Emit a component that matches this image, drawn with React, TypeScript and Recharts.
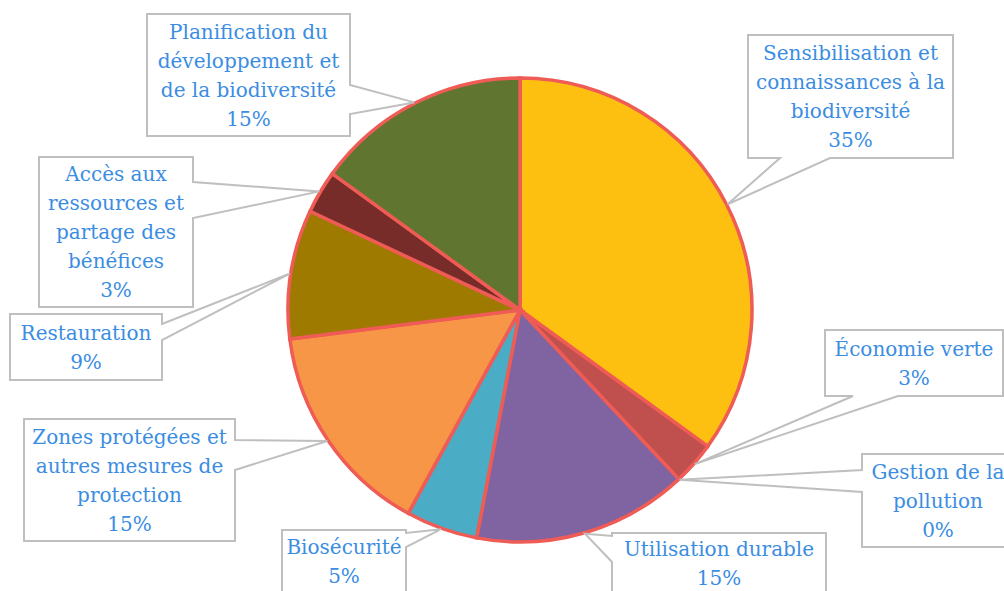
import { PieChart, Pie, Cell } from "recharts";

const categories = [
  "Sensibilisation et\nconnaissances à la\nbiodiversité",
  "Économie verte",
  "Gestion de la\npollution",
  "Utilisation durable",
  "Biosécurité",
  "Zones protégées et\nautres mesures de\nprotection",
  "Restauration",
  "Accès aux\nressources et\npartage des\nbénéfices",
  "Planification du\ndéveloppement et\nde la biodiversité",
];
const shares = [35, 3, 0, 15, 5, 15, 9, 3, 15];
const colors = [
  "#FDBF10",
  "#C0504D",
  "#9BBB59",
  "#8064A2",
  "#4BACC6",
  "#F79646",
  "#9E7A00",
  "#772C2A",
  "#5F7530",
];

const data = categories.map((name, i) => ({ name, value: shares[i] }));

// label boxes: x, y, w, h, side the callout leaves from, gap start/end on that side
const boxes: [number, number, number, number, string, number, number][] = [
  [748, 35, 205, 123, "bottom", 780, 830],
  [825, 330, 178, 66, "bottom", 853, 898],
  [862, 454, 152, 93, "left", 470, 492],
  [612, 533, 214, 60, "left", 536, 562],
  [282, 530, 124, 62, "right", 533, 547],
  [24, 419, 211, 122, "right", 440, 470],
  [10, 314, 152, 66, "right", 324, 340],
  [39, 157, 154, 150, "right", 182, 218],
  [147, 14, 203, 122, "right", 85, 114],
];

const RAD = Math.PI / 180;

const calloutPath = (b: (typeof boxes)[number], tx: number, ty: number) => {
  const [x, y, w, h, side, g1, g2] = b;
  const r = x + w;
  const bt = y + h;
  let d = `M${x},${y}`;
  if (side === "top") d += ` L${g1},${y} L${tx},${ty} L${g2},${y}`;
  d += ` L${r},${y}`;
  if (side === "right") d += ` L${r},${g1} L${tx},${ty} L${r},${g2}`;
  d += ` L${r},${bt}`;
  if (side === "bottom") d += ` L${g2},${bt} L${tx},${ty} L${g1},${bt}`;
  d += ` L${x},${bt}`;
  if (side === "left") d += ` L${x},${g2} L${tx},${ty} L${x},${g1}`;
  return d + " Z";
};

const renderLabel = (props: any) => {
  const { cx, cy, midAngle, outerRadius, index, name, percent } = props;
  const b = boxes[index];
  const tx = cx + (outerRadius + 1) * Math.cos(-midAngle * RAD);
  const ty = cy + (outerRadius + 1) * Math.sin(-midAngle * RAD);
  const lines = [...String(name).split("\n"), `${Math.round(percent * 100)}%`];
  const lh = 29;
  const mx = b[0] + b[2] / 2;
  const my = b[1] + b[3] / 2;
  const y0 = my - ((lines.length - 1) * lh) / 2 + 7;
  return (
    <g key={`lbl-${index}`}>
      <path d={calloutPath(b, tx, ty)} fill="#FFFFFF" stroke="#BFBFBF" strokeWidth={2} />
      <text
        x={mx}
        y={y0}
        textAnchor="middle"
        fill="#3B8DE2"
        fontFamily="DejaVu Serif"
        fontSize={20}
      >
        {lines.map((l, i) => (
          <tspan key={i} x={mx} y={y0 + i * lh}>
            {l}
          </tspan>
        ))}
      </text>
    </g>
  );
};

const App = () => {
  return (
    <div style={{ position: "absolute", left: 0, top: 0, width: 1004, height: 591, background: "#fff" }}>
      <PieChart width={1004} height={591} margin={{ top: 0, right: 0, bottom: 0, left: 0 }}>
        <Pie
          data={data}
          dataKey="value"
          nameKey="name"
          cx={520}
          cy={310}
          outerRadius={232}
          startAngle={90}
          endAngle={-270}
          stroke="#EF5B55"
          strokeWidth={3.5}
          label={renderLabel}
          labelLine={false}
          isAnimationActive={false}
        >
          {data.map((d, i) => (
            <Cell key={d.name} fill={colors[i]} />
          ))}
        </Pie>
      </PieChart>
    </div>
  );
};

export default App;
